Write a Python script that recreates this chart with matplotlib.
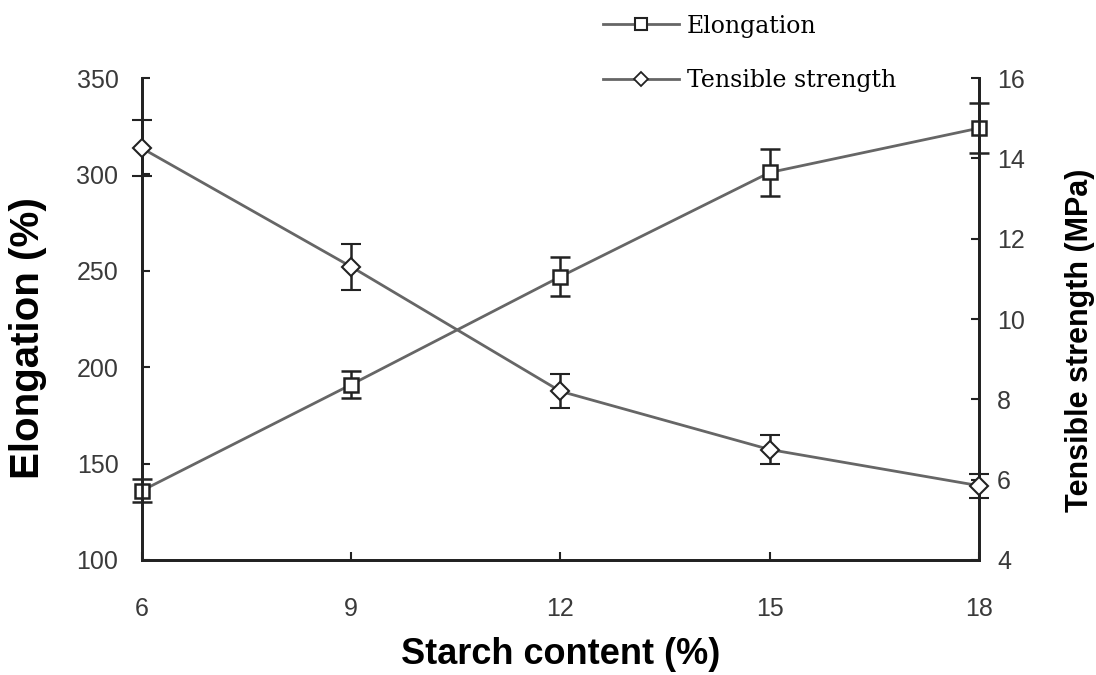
import matplotlib.pyplot as plt
from matplotlib.lines import Line2D

plt.rcParams['font.family'] = ['Liberation Sans', 'DejaVu Sans']

starch = [6, 9, 12, 15, 18]
elongation = [136, 191, 247, 301, 324]
elongation_err = [6, 7, 10, 12, 13]
tensile = [14.25, 11.3, 8.2, 6.75, 5.85]
tensile_err = [0.7, 0.57, 0.42, 0.36, 0.3]

LINE_C = '#666666'
EDGE_C = '#222222'
TICK_C = '#3a3a3a'

fig = plt.figure(figsize=(10.96, 6.75), dpi=100)
ax = fig.add_axes([0.1296, 0.1704, 0.7636, 0.714])
ax2 = ax.twinx()

ax.errorbar(starch, elongation, yerr=elongation_err, color=LINE_C, lw=2,
            marker='s', ms=10.5, mfc='white', mec=EDGE_C, mew=1.8,
            ecolor=EDGE_C, elinewidth=1.8, capsize=7, capthick=1.8,
            clip_on=False, zorder=3)
ax2.errorbar(starch, tensile, yerr=tensile_err, color=LINE_C, lw=2,
             marker='D', ms=9.5, mfc='white', mec=EDGE_C, mew=1.5,
             ecolor=EDGE_C, elinewidth=1.8, capsize=7, capthick=1.8,
             clip_on=False, zorder=3)

ax.set_xlim(6, 18)
ax.set_ylim(100, 350)
ax2.set_ylim(4, 16)
ax.set_xticks(starch)
ax.set_yticks(range(100, 351, 50))
ax2.set_yticks(range(4, 17, 2))

for a in (ax, ax2):
    a.spines['top'].set_visible(False)
    for s in ('left', 'right', 'bottom'):
        a.spines[s].set_linewidth(2)
        a.spines[s].set_color(EDGE_C)
    a.tick_params(direction='in', length=6, width=1.5, color=EDGE_C,
                  labelsize=18, labelcolor=TICK_C)
ax.tick_params(axis='y', pad=17)
ax.tick_params(axis='x', pad=27)
ax2.tick_params(axis='y', pad=13)

ax.set_xlabel('Starch content (%)', fontsize=26, fontweight='bold')
ax.xaxis.set_label_coords(0.5, -0.16)
ax.set_ylabel('Elongation (%)', fontsize=29, fontweight='bold')
ax.yaxis.set_label_coords(-0.113, 0.46)
ax2.set_ylabel('Tensible strength (MPa)', fontsize=22, fontweight='bold')
ax2.yaxis.set_label_coords(1.103, 0.455)

handles = [
    Line2D([], [], color=LINE_C, lw=2, marker='s', ms=8, mfc='white',
           mec=EDGE_C, mew=1.5),
    Line2D([], [], color=LINE_C, lw=2, marker='D', ms=7, mfc='white',
           mec=EDGE_C, mew=1.3),
]
fig.legend(handles, ['Elongation', 'Tensible strength'], loc='upper left',
           bbox_to_anchor=(0.548, 0.982), frameon=False,
           prop={'family': 'DejaVu Serif', 'size': 17},
           handlelength=3.2, handletextpad=0.35, labelspacing=1.35,
           borderaxespad=0.0, borderpad=0.1)

fig.savefig('out.png', dpi=100)
